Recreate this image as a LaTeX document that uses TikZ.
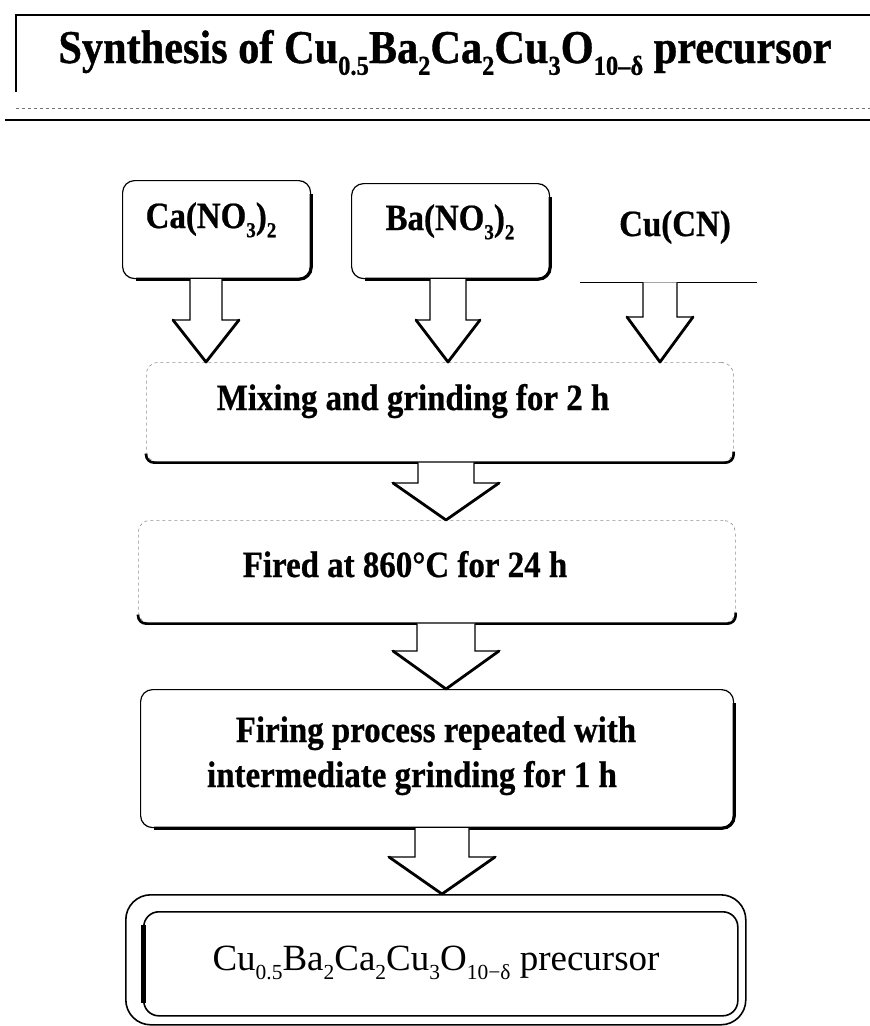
\documentclass[tikz,border=0pt]{standalone}
\usepackage{fontspec}
\setmainfont{Liberation Serif}
\newfontfamily\condbold{Liberation Serif Bold}[FakeStretch=0.89, FakeBold=0.6]
\newfontfamily\condtitle{Liberation Serif Bold}[FakeStretch=0.9, FakeBold=0.8]
\usetikzlibrary{calc}
\newcommand\sbs[1]{\raisebox{-0.25em}{\scalebox{0.58}{#1}}}
\newcommand\shadowedge[1]{\draw[line width=3.2pt, rounded corners=12pt] ([yshift=-14pt]#1.north east) -- (#1.south east) -- ([xshift=14pt]#1.south west);}
\newcommand\heavybottom[1]{\draw[line width=2.6pt, rounded corners=8pt] ([yshift=9pt]#1.south west) -- (#1.south west) -- (#1.south east) -- ([yshift=11pt]#1.south east);}
% source, target, x, half shaft, half head, head length
\newcommand\blockarr[6]{%
  \draw[arrowline] let \p1=(#1.south), \p2=(#2.north) in
    (#3pt-#4pt,\y1) -- (#3pt-#4pt,\y2+#6pt) -- (#3pt-#5pt,\y2+#6pt) -- (#3pt,\y2)
    -- (#3pt+#5pt,\y2+#6pt) -- (#3pt+#4pt,\y2+#6pt) -- (#3pt+#4pt,\y1);
  \draw[vline] let \p2=(#2.north) in
    (#3pt-#5pt,\y2+#6pt) -- (#3pt,\y2) -- (#3pt+#5pt,\y2+#6pt);}
\begin{document}
\begin{tikzpicture}[x=1pt,y=-1pt,
  boxshape/.style={rounded corners=12pt, inner sep=0pt, anchor=north west},
  solidbox/.style={boxshape, draw, line width=1.2pt},
  faintbox/.style={boxshape, draw=black!45, dashed, line width=0.6pt},
  bigtxt/.style={font=\fontsize{37}{44}\condbold, anchor=base, inner sep=0pt},
  arrowline/.style={draw, fill=white, line width=1.1pt, line join=miter},
  vline/.style={line width=2.8pt, line cap=round, line join=round}]
\fill[white] (0,0) rectangle (870,1026);
\useasboundingbox (0,0) rectangle (870,1026);

% title
\node[font=\fontsize{47}{54}\condtitle, anchor=base, inner sep=0pt] (title) at (445,63)
  {Synthesis of Cu\sbs{0.5}Ba\sbs{2}Ca\sbs{2}Cu\sbs{3}O\sbs{10–δ} precursor};
\draw[line width=1.5pt] (16,92) -- (16,15) -- (870,15);
\draw[black!55, dashed, line width=0.8pt] (16,108) -- (870,108);
\draw[line width=2.2pt] (5,120) -- (870,120);

% reagent boxes
\node[solidbox, minimum width=188pt, minimum height=98pt] (cabox) at (122,180) {};
\shadowedge{cabox}
\node[bigtxt] (ca) at (211,228) {Ca(NO\sbs{3})\sbs{2}};
\node[solidbox, minimum width=198pt, minimum height=95pt] (babox) at (351,183) {};
\shadowedge{babox}
\node[bigtxt] (ba) at (450,230) {Ba(NO\sbs{3})\sbs{2}};
\node[boxshape, minimum width=177pt, minimum height=99pt] (cubox) at (580,183) {};
\draw[line width=1.5pt] (cubox.south west) -- (cubox.south east);
\node[bigtxt] (cu) at (675,236) {Cu(CN)};

% mixing
\node[faintbox, minimum width=587pt, minimum height=100pt] (mix) at (146,362) {};
\heavybottom{mix}
\node[bigtxt] (mixt) at (413,410) {Mixing and grinding for 2 h};

% fired
\node[faintbox, minimum width=597pt, minimum height=103pt] (fired) at (138,520) {};
\heavybottom{fired}
\node[bigtxt] (firedt) at (405,577) {Fired at 860°C for 24 h};

% firing repeated
\node[solidbox, minimum width=593pt, minimum height=138pt] (firing) at (140,689) {};
\shadowedge{firing}
\node[bigtxt] (fir1) at (436,742) {Firing process repeated with};
\node[bigtxt] (fir2) at (412,787) {intermediate grinding for 1 h};

% final
\node[boxshape, draw, rounded corners=25pt, line width=1.6pt, minimum width=620pt, minimum height=130pt] (outer) at (125,894) {};
\node[boxshape, draw, rounded corners=15pt, line width=1.6pt, minimum width=594pt, minimum height=104pt] (final) at (143,911) {};
\draw[line width=5pt] ([yshift=-14pt]final.north west) -- ([yshift=14pt]final.south west);
\node[font=\fontsize{37}{44}\selectfont, anchor=base, inner sep=0pt] (finalt) at (436,970)
  {Cu\sbs{0.5}Ba\sbs{2}Ca\sbs{2}Cu\sbs{3}O\sbs{10−δ} precursor};

% arrows
\blockarr{cabox}{mix}{206}{16}{33}{42}
\blockarr{babox}{mix}{448}{18}{32}{42}
\blockarr{cubox}{mix}{660}{17}{33}{45}
\blockarr{mix}{fired}{446}{28}{53}{37}
\blockarr{fired}{firing}{446}{29}{53}{38}
\blockarr{firing}{outer}{442}{27}{53}{37}
\end{tikzpicture}
\end{document}
